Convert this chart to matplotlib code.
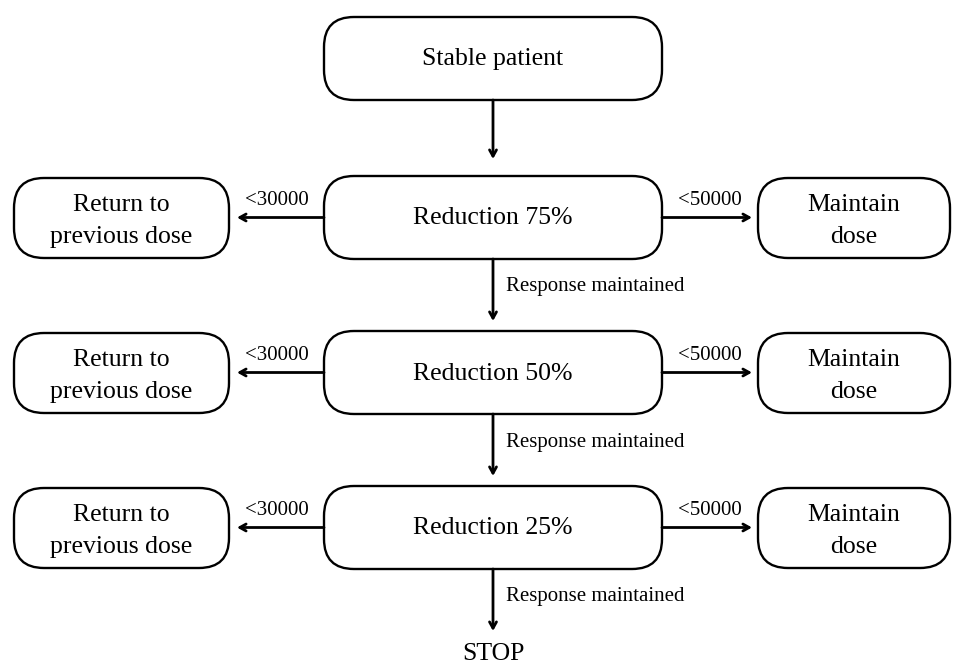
import matplotlib
matplotlib.use("Agg")
import matplotlib.pyplot as plt
from matplotlib.patches import FancyBboxPatch

plt.rcParams['font.family'] = ['Liberation Serif', 'DejaVu Serif']

# flowchart content
start_label = "Stable patient"
steps = ["Reduction 75%", "Reduction 50%", "Reduction 25%"]
left_labels = ["Return to\nprevious dose"] * 3
right_labels = ["Maintain\ndose"] * 3
left_threshold = "<30000"
right_threshold = "<50000"
step_condition = "Response maintained"
end_label = "STOP"

# layout in pixel units
W, H = 963, 664
cx = 493
mid_x = (324, 662)
row_top = [176, 331, 486]
row_h = 83
side_left = (14, 229)
side_right = (758, 950)

fig = plt.figure(figsize=(W / 100, H / 100), dpi=100)
ax = fig.add_axes([0, 0, 1, 1])
ax.set_xlim(0, W)
ax.set_ylim(H, 0)
ax.axis('off')


def box(x0, x1, y0, h, text, r=30, dy=1):
    p = FancyBboxPatch((x0, y0), x1 - x0, h,
                       boxstyle=f"round,pad=0,rounding_size={r}",
                       fc='white', ec='black', lw=1.7)
    ax.add_patch(p)
    ax.text((x0 + x1) / 2, y0 + h / 2 + dy, text, ha='center', va='center',
            fontsize=18.5, linespacing=1.55)


def arrow(x0, y0, x1, y1):
    ax.annotate("", xy=(x1, y1), xytext=(x0, y0),
                arrowprops=dict(arrowstyle="->,head_length=0.45,head_width=0.25",
                                lw=2.0, color='black', shrinkA=0, shrinkB=0))


# start box
box(mid_x[0], mid_x[1], 17, 83, start_label)
arrow(cx, 100, cx, 159)

for i, (step, lt, rt) in enumerate(zip(steps, left_labels, right_labels)):
    y0 = row_top[i]
    yc = y0 + row_h / 2
    box(mid_x[0], mid_x[1], y0, row_h, step)
    box(side_left[0], side_left[1], y0 + 2, row_h - 3, lt, dy=3)
    box(side_right[0], side_right[1], y0 + 2, row_h - 3, rt, dy=3)
    arrow(mid_x[0], yc, side_left[1] + 8, yc)
    arrow(mid_x[1], yc, side_right[0] - 6, yc)
    ax.text(277, yc - 17, left_threshold, ha='center', va='center', fontsize=15)
    ax.text(710, yc - 17, right_threshold, ha='center', va='center', fontsize=15)
    y_bot = y0 + row_h
    arrow(cx, y_bot, cx, y_bot + 62)
    ax.text(cx + 13, y_bot + 28, step_condition, ha='left', va='center', fontsize=15)

ax.text(cx, 654, end_label, ha='center', va='center', fontsize=18.5)

fig.savefig("out.png", dpi=100)
